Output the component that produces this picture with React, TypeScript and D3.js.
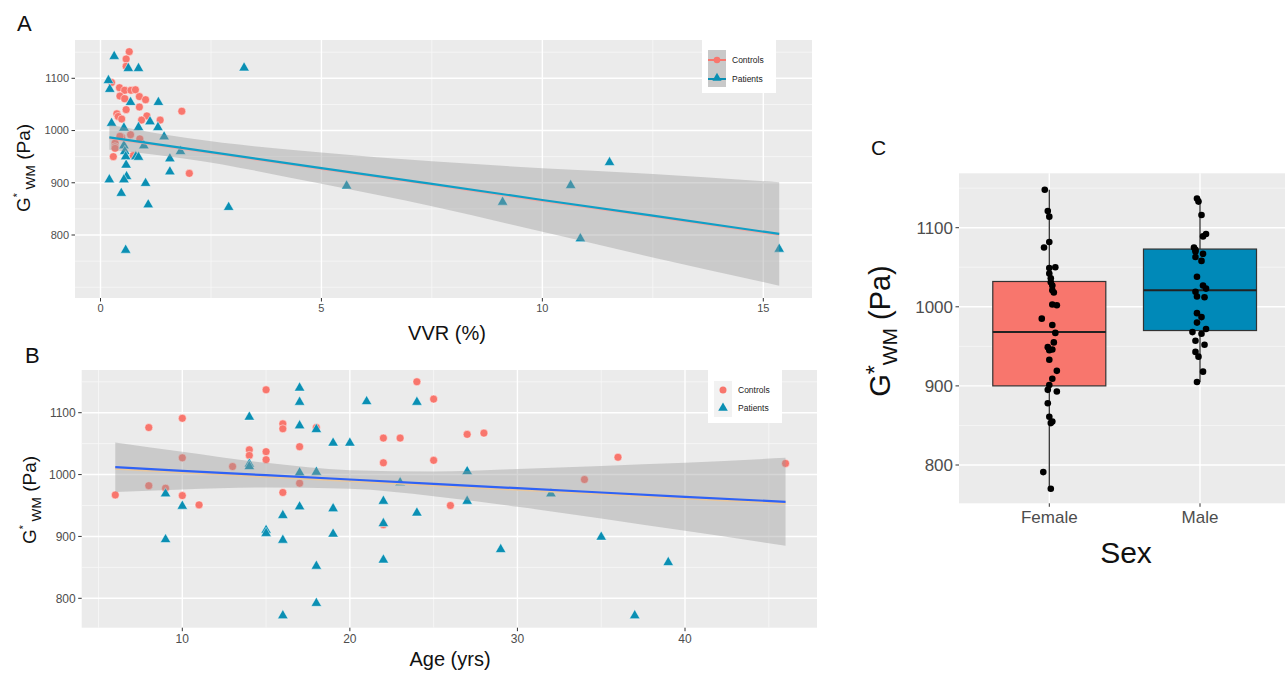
import React from 'react';
import * as d3 from 'd3';

// ---- panel A : VVR (%) vs G*wm ----
const controlsVVR: [number, number][] = [
  [0.65, 1151], [0.58, 1137], [0.58, 1123], [0.25, 1092], [0.43, 1082], [0.55, 1077], [0.69, 1077],
  [0.79, 1078], [0.44, 1066], [0.55, 1061], [0.88, 1065], [1.02, 1059], [0.88, 1045], [0.58, 1040],
  [1.84, 1037], [0.37, 1032], [0.40, 1027], [0.48, 1022], [1.05, 1028], [0.93, 1020], [1.35, 1020],
  [0.68, 992], [0.89, 984], [0.48, 987], [0.33, 976], [0.33, 969], [0.33, 966], [0.29, 950],
  [0.74, 952], [2.01, 918], [0.44, 989]
];
const patientsVVR: [number, number][] = [
  [0.31, 1142], [0.63, 1119], [0.86, 1119], [3.25, 1120], [0.18, 1096], [0.21, 1079], [0.68, 1054],
  [1.31, 1054], [0.25, 1014], [1.12, 1017], [0.53, 1005], [0.86, 1006], [1.30, 1006], [1.44, 988],
  [0.98, 971], [0.53, 971], [0.55, 960], [0.57, 950], [0.80, 950], [0.86, 949], [1.81, 960],
  [1.57, 946], [0.58, 934], [1.57, 921], [0.20, 906], [0.59, 912], [0.53, 906], [1.02, 899],
  [0.47, 880], [1.08, 858], [2.90, 853], [5.57, 894], [0.57, 771], [9.10, 863], [10.64, 895],
  [11.52, 939], [10.86, 793], [15.36, 773]
];
// lm fit + 95% band
const fitVVR = [0.2, 2, 5, 7.5, 10, 12.5, 15.36];
const fitVVRmid = [987, 965, 928, 898, 867, 837, 802];
const fitVVRlo = [963, 945, 898, 855, 806, 757, 703];
const fitVVRhi = [1011, 985, 958, 941, 928, 917, 901];

// ---- panel B : age vs G*wm ----
const controlsAge: [number, number][] = [
  [6, 967], [8, 1076], [8, 982], [9, 978], [10, 1091], [10, 1027], [10, 966], [11, 951], [13, 1013],
  [14, 1040], [14, 1031], [15, 1137], [15, 1037], [15, 1024], [16, 1082], [16, 1074], [16, 971],
  [17, 1045], [17, 986], [18, 1076], [22, 1059], [22, 1019], [22, 919], [23, 1059], [24, 1150],
  [25, 1122], [25, 1023], [26, 950], [27, 1065], [28, 1067], [34, 992], [36, 1028], [46, 1018]
];
const patientsAge: [number, number][] = [
  [9, 969], [9, 895], [10, 949], [14, 1093], [14, 1017], [14, 1013], [15, 910], [15, 905], [16, 934],
  [16, 894], [16, 772], [17, 1140], [17, 1117], [17, 1079], [17, 1003], [17, 948], [18, 1073],
  [18, 1004], [18, 852], [18, 792], [19, 1051], [19, 945], [19, 904], [20, 1051], [21, 1118],
  [22, 957], [22, 921], [22, 862], [23, 987], [24, 1117], [24, 938], [27, 1005], [27, 957],
  [29, 879], [32, 969], [35, 899], [37, 772], [39, 858]
];
const fitAge = [6, 10, 15, 20, 25, 30, 35, 40, 46];
const fitAgeMid = [1012, 1006, 999, 992, 985, 978, 971, 964, 956];
const fitAgeLo = [972, 976, 979, 977, 965, 948, 929, 909, 885];
const fitAgeHi = [1052, 1037, 1019, 1007, 1005, 1009, 1014, 1019, 1027];

// ---- panel C : sex boxplot ----
const sexes = ['Female', 'Male'];
// [min, q1, median, q3, max]
const boxStats = [
  [770, 900, 968, 1032, 1148],
  [905, 970, 1021, 1073, 1137]
];
// [value, jitter] per subject
const femaleG: [number, number][] = [
  [1148, -0.03], [1121, -0.01], [1114, 0.0], [1082, 0.0], [1075, -0.035], [1050, 0.04], [1049, 0.0],
  [1042, 0.0], [1036, 0.01], [1031, 0.01], [1027, 0.02], [1021, 0.02], [1018, 0.03], [1003, 0.02],
  [1002, 0.05], [985, -0.05], [977, 0.02], [967, 0.04], [955, 0.03], [949, -0.01], [946, 0.02],
  [945, 0.0], [933, 0.0], [919, 0.05], [909, 0.02], [901, 0.0], [895, -0.01], [893, 0.05],
  [878, -0.01], [861, 0.0], [855, 0.02], [853, 0.01], [791, -0.04], [770, 0.01]
];
const maleG: [number, number][] = [
  [1137, -0.02], [1133, -0.01], [1116, 0.01], [1092, 0.04], [1089, 0.02], [1075, -0.04], [1072, -0.03],
  [1070, -0.03], [1067, 0.02], [1063, -0.03], [1058, 0.01], [1038, -0.02], [1027, 0.02], [1023, 0.04],
  [1019, -0.03], [1013, -0.02], [1012, 0.03], [992, -0.02], [987, 0.01], [980, -0.02], [972, 0.04],
  [968, -0.05], [966, 0.01], [957, -0.03], [952, 0.03], [943, -0.03], [937, -0.01], [918, 0.02],
  [905, -0.02]
];

const gTicks = [800, 900, 1000, 1100];
const vvrTicks = [0, 5, 10, 15];
const ageTicks = [10, 20, 30, 40];

const FONT = "'Liberation Sans', Arial, sans-serif";
const RED = '#f8766d';
const TEAL = '#0a8fb3';
const PANEL_BG = '#ebebeb';
const RIBBON = 'rgba(153,153,153,0.4)';
const TICK_COL = '#4d4d4d';

const tri = d3.symbol().type(d3.symbolTriangle).size(48)();

function Grid({ box, x, y, xMajor, xMinor, yMajor, yMinor }) {
  return (
    <g>
      <rect x={box.x0} y={box.y0} width={box.x1 - box.x0} height={box.y1 - box.y0} fill={PANEL_BG} />
      {yMinor.map(v => <line key={'ym' + v} x1={box.x0} x2={box.x1} y1={y(v)} y2={y(v)} stroke="#f7f7f7" strokeWidth={0.8} />)}
      {xMinor.map(v => <line key={'xm' + v} y1={box.y0} y2={box.y1} x1={x(v)} x2={x(v)} stroke="#f7f7f7" strokeWidth={0.8} />)}
      {yMajor.map(v => <line key={'yM' + v} x1={box.x0} x2={box.x1} y1={y(v)} y2={y(v)} stroke="#fff" strokeWidth={1.4} />)}
      {xMajor.map(v => <line key={'xM' + v} y1={box.y0} y2={box.y1} x1={x(v)} x2={x(v)} stroke="#fff" strokeWidth={1.4} />)}
    </g>
  );
}

function Axes({ box, x, y, xTicks, yTicks, fs, xLab = (v) => String(v) }) {
  return (
    <g fontFamily={FONT} fill={TICK_COL} fontSize={fs}>
      {yTicks.map(v => (
        <g key={'y' + v}>
          <line x1={box.x0 - 3.5} x2={box.x0} y1={y(v)} y2={y(v)} stroke="#333" strokeWidth={1} />
          <text x={box.x0 - 6} y={y(v)} dy="0.35em" textAnchor="end">{v}</text>
        </g>
      ))}
      {xTicks.map(v => (
        <g key={'x' + v}>
          <line y1={box.y1} y2={box.y1 + 3.5} x1={x(v)} x2={x(v)} stroke="#333" strokeWidth={1} />
          <text x={x(v)} y={box.y1 + 5 + fs * 0.85} textAnchor="middle">{xLab(v)}</text>
        </g>
      ))}
    </g>
  );
}

function YTitle({ cx, cy, fs, starSmall }) {
  return (
    <text transform={`translate(${cx},${cy}) rotate(-90)`} textAnchor="middle" fontFamily={FONT} fontSize={fs} fill="#111">
      G
      <tspan fontSize={starSmall ? fs * 0.55 : fs * 0.8} dy={starSmall ? -fs * 0.45 : -fs * 0.25}>*</tspan>
      <tspan fontSize={fs * 0.72} dy={starSmall ? fs * 0.7 : fs * 0.5}>{starSmall ? ' WM' : 'WM'}</tspan>
      <tspan dy={starSmall ? -fs * 0.25 : -fs * 0.25}> (Pa)</tspan>
    </text>
  );
}

function Points({ ctrl, pat, x, y }) {
  return (
    <g>
      {ctrl.map((d, i) => (
        <circle key={'c' + i} cx={x(d[0])} cy={y(d[1])} r={4} fill={RED} stroke="#fff" strokeOpacity={0.6} strokeWidth={0.8} />
      ))}
      {pat.map((d, i) => (
        <path key={'p' + i} d={tri} transform={`translate(${x(d[0])},${y(d[1])})`} fill={TEAL} stroke="#fff" strokeOpacity={0.6} strokeWidth={0.8} />
      ))}
    </g>
  );
}

function Fit({ xs, mid, lo, hi, x, y, col, fringe, off }) {
  const rows = xs.map((v, i) => ({ v, m: mid[i], l: lo[i], h: hi[i] }));
  const area = d3.area<any>().x(d => x(d.v)).y0(d => y(d.l)).y1(d => y(d.h)).curve(d3.curveMonotoneX);
  const line = d3.line<any>().x(d => x(d.v)).y(d => y(d.m));
  return (
    <g>
      <path d={area(rows)} fill={RIBBON} />
      <path d={line(rows)} transform={`translate(0,${off})`} fill="none" stroke={fringe} strokeWidth={2} />
      <path d={line(rows)} fill="none" stroke={col} strokeWidth={2.2} />
    </g>
  );
}

function PanelA() {
  const box = { x0: 75, x1: 812, y0: 40, y1: 298 };
  const x = d3.scaleLinear().domain([0, 15]).range([100.5, 763.3]);
  const y = d3.scaleLinear().domain([800, 1100]).range([235, 78.3]);
  return (
    <g>
      <Grid box={box} x={x} y={y} xMajor={vvrTicks} xMinor={[2.5, 7.5, 12.5]} yMajor={gTicks} yMinor={[700, 750, 850, 950, 1050, 1150]} />
      <Points ctrl={controlsVVR} pat={patientsVVR} x={x} y={y} />
      <Fit xs={fitVVR} mid={fitVVRmid} lo={fitVVRlo} hi={fitVVRhi} x={x} y={y} col="#109fc6" fringe="#f4a7a0" off={0.9} />
      <Axes box={box} x={x} y={y} xTicks={vvrTicks} yTicks={gTicks} fs={11} />
      {/* legend */}
      <g fontFamily={FONT} fontSize={8.5} fill="#222">
        <rect x={702} y={40} width={74} height={53} fill="#fff" />
        <rect x={708} y={50} width={18} height={37} fill="#c9c9c9" />
        <line x1={708} x2={726} y1={60} y2={60} stroke={RED} strokeWidth={2} />
        <circle cx={717} cy={60} r={3.3} fill={RED} />
        <line x1={708} x2={726} y1={79} y2={79} stroke={TEAL} strokeWidth={2} />
        <path d={d3.symbol().type(d3.symbolTriangle).size(36)()} transform="translate(717,78)" fill={TEAL} />
        <text x={732} y={63}>Controls</text>
        <text x={732} y={82}>Patients</text>
      </g>
      <text x={447} y={340} textAnchor="middle" fontFamily={FONT} fontSize={20} fill="#111">VVR (%)</text>
      <YTitle cx={30} cy={168} fs={19} starSmall />
      <text x={17} y={31} fontFamily={FONT} fontSize={22} fill="#111">A</text>
    </g>
  );
}

function PanelB() {
  const box = { x0: 81.7, x1: 817, y0: 370, y1: 627.7 };
  const x = d3.scaleLinear().domain([10, 40]).range([182.3, 685]);
  const y = d3.scaleLinear().domain([800, 1100]).range([598.3, 412.7]);
  return (
    <g>
      <Grid box={box} x={x} y={y} xMajor={ageTicks} xMinor={[5, 15, 25, 35, 45]} yMajor={gTicks} yMinor={[850, 950, 1050, 1150]} />
      <Points ctrl={controlsAge} pat={patientsAge} x={x} y={y} />
      <Fit xs={fitAge} mid={fitAgeMid} lo={fitAgeLo} hi={fitAgeHi} x={x} y={y} col="#2f62f5" fringe="#e9c79c" off={1.6} />
      <Axes box={box} x={x} y={y} xTicks={ageTicks} yTicks={gTicks} fs={12} />
      <g fontFamily={FONT} fontSize={8.5} fill="#222">
        <rect x={708} y={369} width={74} height={54} fill="#fff" />
        <rect x={714} y={381} width={18} height={36} fill="#f2f2f2" />
        <circle cx={723} cy={390} r={3.5} fill={RED} />
        <path d={d3.symbol().type(d3.symbolTriangle).size(40)()} transform="translate(723,408)" fill={TEAL} />
        <text x={738} y={393}>Controls</text>
        <text x={738} y={411}>Patients</text>
      </g>
      <text x={450} y={666} textAnchor="middle" fontFamily={FONT} fontSize={20} fill="#111">Age (yrs)</text>
      <YTitle cx={36} cy={500} fs={19} starSmall />
      <text x={25} y={363} fontFamily={FONT} fontSize={22} fill="#111">B</text>
    </g>
  );
}

function PanelC() {
  const box = { x0: 959, x1: 1285, y0: 173.3, y1: 503.3 };
  const x = d3.scaleLinear().domain([1, 2]).range([1049.3, 1200]);
  const y = d3.scaleLinear().domain([800, 1100]).range([465, 227.7]);
  const bw = (x(2) - x(1)) * 0.75;
  const fills = [RED, '#0089b8'];
  const pts = [femaleG, maleG];
  return (
    <g>
      <Grid box={box} x={x} y={y} xMajor={[1, 2]} xMinor={[]} yMajor={gTicks} yMinor={[850, 950, 1050, 1150]} />
      {boxStats.map((s, i) => {
        const cx = x(i + 1);
        return (
          <g key={'b' + i}>
            <line x1={cx} x2={cx} y1={y(s[4])} y2={y(s[3])} stroke="#333" strokeWidth={1.3} />
            <line x1={cx} x2={cx} y1={y(s[1])} y2={y(s[0])} stroke="#333" strokeWidth={1.3} />
            <rect x={cx - bw / 2} y={y(s[3])} width={bw} height={y(s[1]) - y(s[3])} fill={fills[i]} stroke="#333" strokeWidth={1.2} />
            <line x1={cx - bw / 2} x2={cx + bw / 2} y1={y(s[2])} y2={y(s[2])} stroke="#222" strokeWidth={2} />
          </g>
        );
      })}
      {pts.map((arr, i) => arr.map((d, j) => (
        <circle key={i + '-' + j} cx={x(i + 1 + d[1])} cy={y(d[0])} r={3.3} fill="#000" />
      )))}
      <Axes box={box} x={x} y={y} xTicks={[1, 2]} yTicks={gTicks} fs={17} xLab={(v) => sexes[v - 1]} />
      <text x={1126} y={563} textAnchor="middle" fontFamily={FONT} fontSize={30} fill="#111">Sex</text>
      <YTitle cx={890} cy={331} fs={29} starSmall={false} />
      <text x={871} y={155} fontFamily={FONT} fontSize={21} fill="#111">C</text>
    </g>
  );
}

export default function App() {
  return (
    <svg width={1287} height={676} style={{ position: 'absolute', left: 0, top: 0, background: '#fff' }}>
      <rect width={1287} height={676} fill="#fff" />
      <PanelA />
      <PanelB />
      <PanelC />
    </svg>
  );
}
